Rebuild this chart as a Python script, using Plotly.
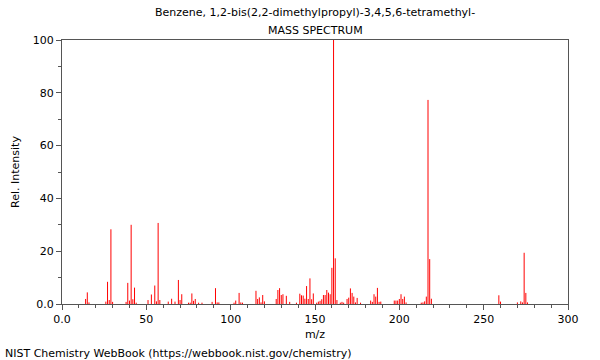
import plotly.graph_objects as go

mz = [14, 15, 16, 26, 27, 28, 29, 30, 38, 39, 40, 41, 42, 43, 44, 51, 53, 55, 56, 57, 58,
      63, 65, 67, 69, 70, 71, 75, 76, 77, 78, 79, 81, 83, 89, 91, 92, 93,
      102, 103, 105, 106, 107, 115, 116, 117, 118, 119, 120,
      127, 128, 129, 130, 131, 133, 135, 139, 141, 142, 143, 144, 145, 146, 147, 148, 149,
      151, 152, 153, 154, 155, 156, 157, 158, 159, 160, 161, 162, 163, 165, 166, 167,
      169, 170, 171, 172, 173, 174, 175, 177, 183, 184, 185, 186, 187, 188, 189,
      197, 198, 199, 200, 201, 202, 203, 204, 213, 214, 215, 216, 217, 218, 219,
      259, 260, 270, 272, 273, 274, 275, 276]
intensity = [1.9, 4.4, 0.6, 0.9, 8.4, 1.5, 28.3, 0.8, 0.8, 8.0, 1.3, 30.0, 1.8, 6.2, 0.5, 1.5, 3.6, 7.0, 1.0, 30.7, 1.5,
             0.9, 2.0, 0.9, 9.1, 1.5, 3.7, 0.5, 0.5, 4.0, 1.2, 1.9, 0.5, 0.5, 0.8, 6.0, 0.6, 0.6,
             0.5, 1.3, 4.2, 0.6, 0.5, 5.0, 1.9, 2.5, 0.6, 3.4, 1.0,
             1.9, 5.3, 6.0, 3.4, 3.7, 3.1, 0.8, 0.5, 3.9, 3.3, 3.2, 2.0, 6.8, 1.9, 9.7, 1.8, 4.0,
             0.5, 0.9, 1.2, 1.8, 3.4, 3.4, 5.3, 4.3, 3.7, 13.7, 100.0, 17.3, 1.5, 0.5, 0.8, 0.5,
             1.9, 2.4, 5.9, 4.2, 2.8, 0.6, 2.3, 0.5, 1.3, 0.8, 3.7, 2.8, 6.1, 0.8, 0.9,
             1.3, 1.3, 1.3, 1.9, 3.7, 1.9, 2.8, 0.6, 0.5, 0.6, 1.0, 2.8, 77.3, 17.0, 2.0,
             3.3, 0.9, 0.6, 1.0, 0.6, 19.4, 4.2, 0.6]

x_ticks = [0, 50, 100, 150, 200, 250, 300]
x_tick_labels = ["0.0", "50", "100", "150", "200", "250", "300"]
y_ticks = [0, 20, 40, 60, 80, 100]
y_tick_labels = ["0.0", "20", "40", "60", "80", "100"]

title_lines = ["Benzene, 1,2-bis(2,2-dimethylpropyl)-3,4,5,6-tetramethyl-", "MASS SPECTRUM"]
footnote = "NIST Chemistry WebBook (https://webbook.nist.gov/chemistry)"

# stick spectrum: one vertical segment per peak, built from the data lists
stick_x, stick_y = [], []
for m, v in zip(mz, intensity):
    stick_x += [m, m, None]
    stick_y += [0, v, None]

fig = go.Figure()
fig.add_trace(go.Scatter(x=stick_x, y=stick_y, mode="lines",
                         line=dict(color="#ff0000", width=1),
                         hoverinfo="skip", showlegend=False))

axis_common = dict(showgrid=False, zeroline=False, showline=True, linecolor="#555555",
                   linewidth=1, mirror=True, ticks="outside", ticklen=5, tickcolor="#555555",
                   automargin=False, showspikes=False,
                   tickfont=dict(family="DejaVu Sans", size=11, color="black"))

fig.update_layout(
    width=600, height=360,
    margin=dict(l=62, r=32, t=40, b=56, autoexpand=False),
    paper_bgcolor="white", plot_bgcolor="white",
    font=dict(family="DejaVu Sans", size=11, color="black"),
    hovermode=False,
    xaxis=dict(range=[0, 300], tickvals=x_ticks, ticktext=x_tick_labels,
               minor=dict(ticks="outside", ticklen=3, dtick=10, tickcolor="#555555"),
               title=dict(text="m/z", standoff=5, font=dict(size=11)), **axis_common),
    yaxis=dict(range=[0, 100], tickvals=y_ticks, ticktext=y_tick_labels,
               minor=dict(ticks="outside", ticklen=3, dtick=10, tickcolor="#555555"),
               title=dict(text="Rel. Intensity", standoff=10, font=dict(size=11)), **axis_common),
    annotations=[
        dict(text=title_lines[0], xref="paper", yref="paper", x=0.5, y=1.0 + 27 / 264,
             xanchor="center", yanchor="middle", showarrow=False, font=dict(size=11)),
        dict(text=title_lines[1], xref="paper", yref="paper", x=0.5, y=1.0 + 10 / 264,
             xanchor="center", yanchor="middle", showarrow=False, font=dict(size=11)),
        dict(text=footnote, xref="paper", yref="paper", x=-59 / 506, y=-49 / 264,
             xanchor="left", yanchor="middle", showarrow=False, font=dict(size=11)),
    ],
)

# remove the default 8 px page margin so the figure sits at the window's corner
fig.write_html("out.html", config={"displayModeBar": False, "staticPlot": True},
               post_script="document.body.style.margin='0';")
